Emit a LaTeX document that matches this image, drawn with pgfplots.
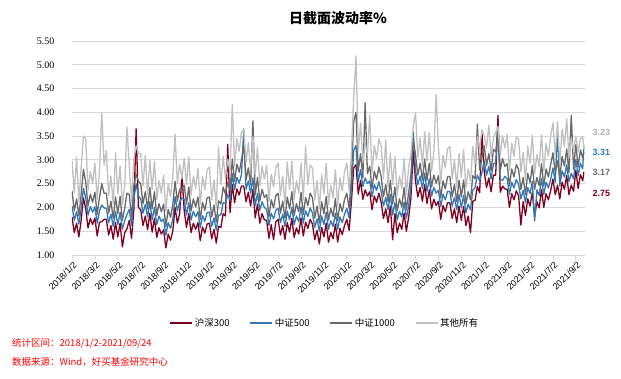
\documentclass[border=0pt]{standalone}
\usepackage{pgfplots}
\usepackage{pgfplotstable}
\pgfplotsset{compat=1.18}
\usepackage{fontspec}
\setmainfont{Liberation Sans}
\newfontfamily\cjk{Noto Sans CJK SC}
\newfontfamily\serifnum{Liberation Serif}
\definecolor{cR}{RGB}{128,0,32}
\definecolor{cB}{RGB}{50,120,180}
\definecolor{cD}{RGB}{105,105,105}
\definecolor{cL}{RGB}{192,192,192}
\definecolor{cLab}{RGB}{175,175,175}
\definecolor{cGrid}{RGB}{217,217,217}
\pgfplotstableread{
x r b d l
0.0 1.80 2.03 2.35 2.98
0.2 1.47 1.73 1.93 2.30
0.4 1.67 1.91 2.18 3.05
0.6 1.38 1.65 1.82 2.12
0.8 1.73 1.97 2.27 2.84
1.0 2.20 2.40 2.80 3.50
1.2 1.97 2.20 2.53 3.45
1.4 1.57 1.84 2.03 2.36
1.6 1.77 2.02 2.28 2.76
1.8 1.64 1.90 2.11 2.50
2.0 1.78 2.01 2.32 2.93
2.2 1.40 1.67 1.85 2.17
2.4 1.69 1.93 2.21 2.75
2.6 1.70 2.05 2.50 4.00
2.8 1.75 1.99 2.30 2.89
3.0 1.75 1.98 2.30 3.20
3.2 1.42 1.68 1.88 2.25
3.4 1.62 1.86 2.13 2.66
3.6 1.33 1.60 1.77 2.07
3.8 1.68 1.92 2.22 3.15
4.0 1.38 1.64 1.87 2.28
4.2 1.67 1.90 2.23 2.87
4.4 1.17 1.54 1.73 2.06
4.6 1.47 1.72 1.98 2.46
4.8 1.55 1.85 2.30 3.69
5.0 1.73 1.96 2.27 2.88
5.2 1.35 1.62 1.80 2.12
5.4 1.94 2.18 2.46 3.00
5.6 3.65 2.50 2.70 3.30
5.8 2.00 2.24 2.55 3.14
6.0 1.95 2.18 2.50 3.13
6.2 1.62 1.88 2.08 2.45
6.4 1.82 2.06 2.33 3.10
6.6 1.53 1.80 1.97 2.27
6.8 1.88 2.12 2.42 2.99
7.0 1.48 1.74 1.97 2.38
7.2 1.77 2.00 2.33 2.97
7.4 1.37 1.64 1.83 2.16
7.6 1.57 1.82 2.08 2.56
7.8 1.44 1.70 1.91 2.30
8.0 1.53 1.76 2.07 2.68
8.2 1.15 1.42 1.60 1.92
8.4 1.44 1.68 1.96 2.50
8.6 1.31 1.56 1.79 2.23
8.8 1.50 1.74 2.05 2.64
9.0 2.00 2.23 2.55 3.54
9.2 1.67 1.93 2.13 2.50
9.4 1.87 2.11 2.38 2.91
9.6 2.70 2.20 2.40 2.60
9.8 1.93 2.17 2.47 3.04
10.0 1.58 1.84 2.07 2.48
10.2 1.87 2.10 2.43 3.07
10.4 1.47 1.74 1.93 2.26
10.6 1.67 1.92 2.18 2.66
10.8 1.54 1.80 2.01 2.40
11.0 1.68 1.91 2.22 2.83
11.2 1.30 1.57 1.75 2.07
11.4 1.59 1.83 2.11 2.65
11.6 1.46 1.71 1.94 2.38
11.8 1.65 1.89 2.20 2.79
12.0 1.67 1.90 2.22 2.85
12.2 1.34 1.60 1.80 2.17
12.4 1.54 1.78 2.05 2.58
12.6 1.25 1.52 1.69 1.99
12.8 1.60 1.84 2.14 3.27
13.0 1.58 1.84 2.07 2.48
13.2 1.87 2.10 2.43 3.07
13.4 1.82 2.09 2.28 2.61
13.6 3.33 2.27 2.53 3.01
13.8 1.89 2.15 2.36 2.75
14.0 2.48 2.71 3.02 4.17
14.2 2.10 2.37 2.55 2.87
14.4 2.39 2.63 2.91 3.45
14.6 2.26 2.51 2.74 3.18
14.8 2.45 2.69 3.00 3.59
15.0 2.45 3.65 3.30 3.63
15.2 2.12 2.38 2.58 2.95
15.4 2.32 2.56 2.83 3.36
15.6 2.03 2.30 2.47 2.77
15.8 2.38 2.62 3.82 3.49
16.0 1.78 2.04 2.27 2.68
16.2 2.07 2.30 2.63 3.27
16.4 1.67 1.94 2.13 2.46
16.6 1.87 2.12 2.38 2.86
16.8 1.74 2.00 2.21 2.60
17.0 1.73 1.96 2.27 2.88
17.2 1.35 1.62 1.80 2.12
17.4 1.64 1.88 2.16 2.70
17.6 1.32 1.76 1.99 2.43
17.8 1.70 1.94 2.25 2.84
18.0 1.75 1.98 2.30 2.93
18.2 1.42 1.68 1.88 2.25
18.4 1.62 1.86 2.13 2.66
18.6 1.33 1.60 1.77 2.07
18.8 1.68 1.92 2.22 2.96
19.0 1.48 1.74 1.97 2.38
19.2 1.77 2.00 2.33 2.97
19.4 1.37 1.64 1.83 2.16
19.6 1.57 1.82 2.08 2.56
19.8 1.44 1.70 1.91 2.30
20.0 1.78 2.01 2.32 2.93
20.2 1.40 1.67 1.85 2.17
20.4 1.69 1.93 2.21 3.29
20.6 1.56 1.81 2.04 2.48
20.8 1.75 1.99 2.30 2.89
21.0 1.65 1.88 2.20 2.83
21.2 1.32 1.58 1.78 2.15
21.4 1.52 1.76 2.03 2.56
21.6 1.23 1.50 1.67 1.97
21.8 1.58 1.82 2.12 2.69
22.0 1.38 1.64 1.87 2.28
22.2 1.67 1.90 2.23 2.93
22.4 1.27 1.54 1.73 2.06
22.6 1.47 1.72 1.98 2.46
22.8 1.34 1.60 1.81 2.20
23.0 1.65 1.88 2.19 2.80
23.2 1.27 1.54 1.72 2.04
23.4 1.56 1.80 2.08 2.62
23.6 1.43 1.68 1.91 2.35
23.8 1.62 1.86 2.17 2.76
24.0 1.75 1.98 2.30 2.93
24.2 1.52 1.78 1.98 2.35
24.4 2.12 2.36 2.63 3.16
24.6 2.83 3.20 3.80 4.30
24.8 2.90 3.30 4.00 5.19
25.0 2.28 2.54 2.77 3.18
25.2 2.57 2.80 3.13 3.77
25.4 2.17 2.44 2.63 2.96
25.6 2.37 2.62 4.20 3.36
25.8 2.24 2.50 2.71 3.10
26.0 2.33 2.56 2.87 3.95
26.2 1.95 2.22 2.40 2.72
26.4 2.24 2.48 2.76 3.30
26.6 2.11 2.36 2.59 3.03
26.8 2.30 2.54 2.85 3.44
27.0 2.10 2.33 2.65 3.28
27.2 1.77 2.03 2.23 2.60
27.4 1.97 2.21 2.48 3.42
27.6 1.68 1.95 2.12 2.42
27.8 2.03 2.27 2.57 3.14
28.0 1.32 1.84 2.07 2.48
28.2 1.87 2.10 2.43 3.07
28.4 1.47 1.74 1.93 2.26
28.6 1.67 1.92 2.18 2.66
28.8 1.54 1.80 2.01 2.40
29.0 1.88 2.11 2.42 3.03
29.2 1.50 1.77 1.95 2.27
29.4 1.79 2.03 2.31 2.85
29.6 2.21 2.46 2.69 3.13
29.8 3.20 3.59 3.45 3.70
30.0 2.55 2.78 3.10 3.99
30.2 2.22 2.48 2.68 3.05
30.4 2.42 2.66 2.93 3.46
30.6 2.13 2.40 2.57 2.87
30.8 2.48 2.72 3.02 3.59
31.0 2.08 2.34 2.57 2.98
31.2 2.37 2.60 2.93 3.57
31.4 1.97 2.24 2.43 2.76
31.6 2.17 2.42 2.68 3.16
31.8 2.04 2.30 2.51 4.37
32.0 2.13 2.36 2.67 3.28
32.2 1.75 2.02 2.20 2.52
32.4 2.04 2.28 2.56 3.10
32.6 1.91 2.16 2.39 2.83
32.8 2.10 2.34 2.65 3.24
33.0 2.10 2.33 2.65 3.28
33.2 1.77 2.03 2.23 2.60
33.4 1.97 2.21 2.48 3.01
33.6 1.68 1.95 2.12 2.42
33.8 2.03 2.27 2.57 3.14
34.0 1.73 1.99 2.22 2.63
34.2 2.02 2.25 2.58 3.22
34.4 1.62 1.89 2.08 2.41
34.6 1.82 2.07 2.33 2.81
34.8 1.47 1.95 2.16 2.55
35.0 2.13 2.36 2.67 3.28
35.2 2.15 2.42 2.60 2.92
35.4 2.44 2.68 3.75 3.50
35.6 2.31 2.56 2.79 3.23
35.8 3.57 2.74 3.05 3.64
36.0 2.75 2.98 3.30 3.50
36.2 2.42 2.68 2.88 3.25
36.4 2.62 2.86 3.13 3.73
36.6 2.33 2.60 2.77 3.07
36.8 2.68 2.92 3.22 3.45
37.0 2.68 2.94 3.17 3.58
37.2 3.94 3.70 3.60 3.70
37.4 2.32 2.59 2.78 3.11
37.6 2.45 2.57 3.03 3.51
37.8 2.39 2.65 2.86 3.25
38.0 2.38 2.61 2.92 3.53
38.2 2.00 2.27 2.45 2.77
38.4 2.29 2.53 2.81 3.35
38.6 2.16 2.41 2.64 3.08
38.8 2.35 2.59 2.90 3.49
39.0 2.25 2.48 2.80 3.43
39.2 1.63 2.18 2.38 2.75
39.4 2.12 2.36 2.63 3.16
39.6 1.83 2.10 2.27 2.57
39.8 2.18 2.42 2.72 3.29
40.0 2.03 2.29 2.52 2.93
40.2 2.32 2.55 2.88 3.52
40.4 1.80 1.72 2.38 2.71
40.6 2.12 2.37 2.63 3.11
40.8 1.99 2.25 2.46 2.85
41.0 2.38 2.61 2.92 3.53
41.2 2.00 2.27 2.45 2.77
41.4 2.29 2.53 2.81 3.35
41.6 2.16 2.41 2.64 3.08
41.8 2.35 2.59 2.90 3.49
42.0 2.60 2.83 3.15 3.78
42.2 2.27 2.53 2.73 3.10
42.4 2.47 3.60 2.98 3.80
42.6 2.18 2.45 2.62 2.92
42.8 2.53 2.77 3.07 3.64
43.0 2.38 2.64 2.87 3.28
43.2 2.67 2.90 3.23 3.87
43.4 2.27 2.54 2.73 3.06
43.6 2.47 2.72 3.94 3.46
43.8 2.34 2.60 2.81 3.20
44.0 2.78 3.01 3.32 3.50
44.2 2.40 2.67 2.85 3.17
44.4 2.69 2.93 3.21 3.45
44.6 2.56 2.81 3.04 3.48
44.7 2.75 3.31 3.17 3.23
}\vol
\begin{document}
\begin{tikzpicture}
\path[use as bounding box] (-72pt,-124pt) rectangle (549pt,255pt);
\begin{axis}[
  at={(0pt,0pt)}, anchor=south west,
  scale only axis, width=513pt, height=214pt,
  xmin=0, xmax=44.8, ymin=1, ymax=5.5,
  axis line style={draw=none},
  axis x line*=bottom,
  xtick={0,2,...,44},
  xticklabels={2018/1/2,2018/3/2,2018/5/2,2018/7/2,2018/9/2,2018/11/2,2019/1/2,2019/3/2,2019/5/2,2019/7/2,2019/9/2,2019/11/2,2020/1/2,2020/3/2,2020/5/2,2020/7/2,2020/9/2,2020/11/2,2021/1/2,2021/3/2,2021/5/2,2021/7/2,2021/9/2},
  xticklabel style={rotate=45, anchor=north east, font=\fontsize{9}{9}\selectfont, inner sep=1pt, yshift=-1pt},
  x tick style={draw=cGrid, line width=0.8pt},
  major tick length=4pt,
  tick align=outside,
  ytick={1,1.5,...,5.5},
  yticklabels={1.00,1.50,2.00,2.50,3.00,3.50,4.00,4.50,5.00,5.50},
  yticklabel style={font=\serifnum\fontsize{10}{10}\selectfont, xshift=-10pt},
  y tick style={draw=none},
  ymajorgrids, grid style={cGrid, line width=0.8pt},
  legend columns=4,
  legend style={at={(0.493,-0.318)}, anchor=center, draw=none, fill=none,
    font=\cjk\fontsize{9.5}{10}\selectfont,
    /tikz/every even column/.append style={column sep=18pt}},
  legend image code/.code={\draw[#1, line width=1.2pt] (0pt,0pt) -- (22pt,0pt);},
  every axis plot/.append style={line width=1.3pt, line join=round},
]
\addplot[cR, no markers] table[x=x,y=r]{\vol};
\addlegendentry{沪深300}
\addplot[cB, no markers] table[x=x,y=b]{\vol};
\addlegendentry{中证500}
\addplot[cD, no markers] table[x=x,y=d]{\vol};
\addlegendentry{中证1000}
\addplot[cL, no markers] table[x=x,y=l]{\vol};
\addlegendentry{其他所有}
\draw[cGrid, line width=0.8pt] (rel axis cs:0,0) -- (rel axis cs:1,0);
\end{axis}
\node[font=\cjk\bfseries\fontsize{14}{15}\selectfont] at (266pt,237pt) {日截面波动率\%};
\node[anchor=west, font=\bfseries\fontsize{9}{10}\selectfont, text=cLab] at (517pt,123pt) {3.23};
\node[anchor=west, font=\bfseries\fontsize{9}{10}\selectfont, text=cB] at (517pt,103pt) {3.31};
\node[anchor=west, font=\bfseries\fontsize{9}{10}\selectfont, text=cD] at (517pt,83pt) {3.17};
\node[anchor=west, font=\bfseries\fontsize{9}{10}\selectfont, text=cR] at (517pt,62pt) {2.75};
\node[anchor=west, inner sep=0pt, text=red, font=\cjk\fontsize{9.5}{10}\selectfont] at (-60pt,-88pt) {统计区间：2018/1/2-2021/09/24};
\node[anchor=west, inner sep=0pt, text=red, font=\cjk\fontsize{9.5}{10}\selectfont] at (-60pt,-107pt) {数据来源：Wind，好买基金研究中心};
\end{tikzpicture}
\end{document}
